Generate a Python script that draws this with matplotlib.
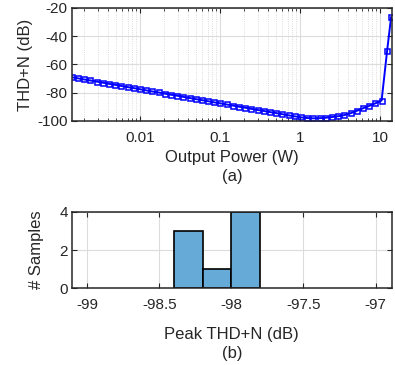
import numpy as np
import matplotlib
matplotlib.use('Agg')
import matplotlib.pyplot as plt
from matplotlib.ticker import LogLocator, NullFormatter

plt.rcParams['font.family'] = ['Liberation Sans', 'DejaVu Sans']
plt.rcParams['axes.unicode_minus'] = False

# THD+N sweep (a)
power_w = [0.0014, 0.00167, 0.0020, 0.00239, 0.00286, 0.00341, 0.00408, 0.00488,
           0.00583, 0.00697, 0.00833, 0.00996, 0.0119, 0.0142, 0.0170, 0.0203,
           0.0243, 0.0290, 0.0347, 0.0415, 0.0497, 0.0593, 0.0709, 0.0848,
           0.101, 0.121, 0.145, 0.173, 0.207, 0.247, 0.296, 0.353, 0.423, 0.505,
           0.604, 0.722, 0.863, 1.03, 1.23, 1.47, 1.76, 2.10, 2.52, 3.01, 3.60,
           4.30, 5.14, 6.14, 7.34, 8.77, 10.5, 12.3, 13.8]
thdn_db = [-69.0, -69.8, -70.6, -71.3, -72.1, -72.9, -73.7, -74.4, -75.2, -76.0,
           -76.7, -77.5, -78.3, -79.1, -79.8, -80.6, -81.4, -82.1, -82.9, -83.7,
           -84.5, -85.2, -86.0, -86.8, -87.5, -88.3, -89.1, -89.9, -90.6, -91.4,
           -92.2, -92.9, -93.7, -94.4, -95.2, -96.0, -96.7, -97.4, -97.9, -98.1,
           -98.0, -97.7, -97.2, -96.6, -95.8, -94.5, -92.8, -91.0, -89.3, -87.5,
           -85.5, -50.4, -26.5]

# peak THD+N histogram (b)
bin_edges = [-98.4, -98.2, -98.0, -97.8]
bin_counts = [3, 1, 4]

fig = plt.figure(figsize=(3.95, 3.65), dpi=100)
ax1 = fig.add_axes([0.182, 0.6685, 0.810, 0.3096])
ax2 = fig.add_axes([0.182, 0.210, 0.810, 0.210])

ax1.plot(power_w, thdn_db, color='blue', lw=1.4, marker='s', markersize=3.6,
         markerfacecolor='none', markeredgewidth=1.1)
ax1.set_xscale('log')
ax1.set_xlim(power_w[0], 14.1)
ax1.set_ylim(-100, -20)
ax1.set_yticks([-100, -80, -60, -40, -20])
ax1.set_xticks([0.01, 0.1, 1, 10])
ax1.set_xticklabels(['0.01', '0.1', '1', '10'])
ax1.xaxis.set_minor_locator(LogLocator(base=10, subs=np.arange(2, 10)))
ax1.xaxis.set_minor_formatter(NullFormatter())
ax1.grid(True, which='major', color='#dcdcdc', lw=0.8)
ax1.grid(True, which='minor', axis='x', color='#d0d0d0', lw=0.6, ls=':')
ax1.set_axisbelow(True)
ax1.set_ylabel('THD+N (dB)', fontsize=12, color='#262626', labelpad=3)
ax1.set_xlabel('Output Power (W)\n(a)', fontsize=12, color='#262626',
               linespacing=1.3, labelpad=4)

widths = np.diff(bin_edges)
ax2.bar(bin_edges[:-1], bin_counts, width=widths, align='edge',
        color='#66aad7', edgecolor='black', lw=1.2)
ax2.set_xlim(-99.106, -96.887)
ax2.set_ylim(0, 4)
ax2.set_yticks([0, 2, 4])
ax2.set_xticks([-99, -98.5, -98, -97.5, -97])
ax2.set_xticklabels(['-99', '-98.5', '-98', '-97.5', '-97'])
ax2.grid(True, color='#dcdcdc', lw=0.8)
ax2.set_axisbelow(True)
ax2.set_ylabel('# Samples', fontsize=12, color='#262626', labelpad=11)
ax2.set_xlabel('Peak THD+N (dB)\n(b)', fontsize=12, color='#262626',
               linespacing=1.3, labelpad=11)

for ax in (ax1, ax2):
    ax.tick_params(which='both', direction='in', top=True, right=True,
                   labelsize=11, colors='#262626', pad=3)
    ax.tick_params(axis='x', which='both', pad=7)
    ax.tick_params(which='major', length=3.5)
    ax.tick_params(which='minor', length=2)
    for s in ax.spines.values():
        s.set_linewidth(1.1)
        s.set_color('#262626')

fig.savefig('out.png', dpi=100)
